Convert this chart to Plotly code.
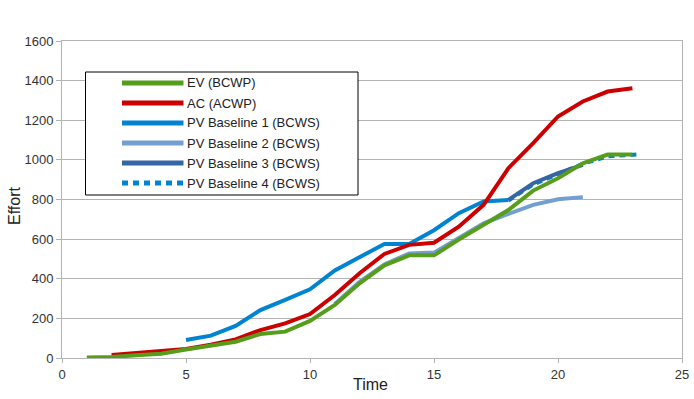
import plotly.graph_objects as go

# ---- data ----
ev_t = list(range(1, 24))
ev_v = [2, 5, 14, 22, 43, 60, 82, 121, 133, 187, 268, 377, 468, 518, 518, 598, 672, 747, 845, 907, 983, 1027, 1027]

ac_t = list(range(2, 24))
ac_v = [15, 24, 37, 45, 67, 94, 141, 175, 222, 318, 428, 525, 571, 582, 663, 773, 958, 1084, 1219, 1295, 1345, 1362]

pv1_t = list(range(5, 19))
pv1_v = [91, 113, 162, 242, 293, 347, 442, 508, 576, 576, 645, 731, 790, 798]

pv2_t = list(range(11, 22))
pv2_v = [272, 384, 472, 528, 532, 605, 680, 727, 773, 801, 812]

pv3_t = [18, 19, 20, 21]
pv3_v = [798, 882, 933, 975]

pv4_t = [18, 19, 20, 21, 22, 23.2]
pv4_v = [795, 876, 928, 980, 1018, 1027]

names = ["EV (BCWP)", "AC (ACWP)", "PV Baseline 1 (BCWS)", "PV Baseline 2 (BCWS)",
         "PV Baseline 3 (BCWS)", "PV Baseline 4 (BCWS)"]
colors = ["#579d1c", "#cc0000", "#0084d1", "#729fcf", "#3465a4", "#0084d1"]
dashes = ["solid", "solid", "solid", "solid", "solid", "6px,5px"]

x_ticks = [0, 5, 10, 15, 20, 25]
y_ticks = [0, 200, 400, 600, 800, 1000, 1200, 1400, 1600]

series = {
    0: (ev_t, ev_v),
    1: (ac_t, ac_v),
    2: (pv1_t, pv1_v),
    3: (pv2_t, pv2_v),
    4: (pv3_t, pv3_v),
    5: (pv4_t, pv4_v),
}

W, H = 694, 399
PL, PR, PT, PB = 62, 682, 41, 358          # plot area in window pixels
L, R, T, B = PL, W - PR, PT, H - PB
PW, PH = PR - PL, PB - PT

fig = go.Figure()
draw_order = [2, 3, 5, 4, 1, 0]
for i in draw_order:
    t, v = series[i]
    fig.add_trace(go.Scatter(
        x=t, y=v, mode="lines", name=names[i], showlegend=False,
        line=dict(color=colors[i], width=4, dash=dashes[i]),
    ))

def px(x):
    return (x - PL) / PW

def py(y):
    return (PB - y) / PH

shapes = []
annotations = []
# legend box
shapes.append(dict(type="rect", xref="paper", yref="paper",
                   x0=px(85.5), x1=px(358), y0=py(195), y1=py(72),
                   line=dict(color="black", width=1), fillcolor="white", layer="above"))
rows = [83, 103, 123, 143, 163, 183]
for i, yy in enumerate(rows):
    shapes.append(dict(type="line", xref="paper", yref="paper",
                       x0=px(122), x1=px(183.5), y0=py(yy), y1=py(yy),
                       line=dict(color=colors[i], width=5, dash=dashes[i]), layer="above"))
    annotations.append(dict(xref="paper", yref="paper", x=px(185), y=py(yy),
                            xanchor="left", yanchor="middle", showarrow=False,
                            text=names[i], font=dict(size=13, color="#222222")))

annotations.append(dict(xref="paper", yref="paper", x=px(370), y=py(384),
                        xanchor="center", yanchor="middle", showarrow=False,
                        text="Time", font=dict(size=16, color="#222222")))
annotations.append(dict(xref="paper", yref="paper", x=px(14), y=py(206),
                        xanchor="center", yanchor="middle", showarrow=False, textangle=-90,
                        text="Effort", font=dict(size=16, color="#222222")))

fig.update_layout(
    width=W, height=H,
    margin=dict(l=L, r=R, t=T, b=B, autoexpand=False),
    paper_bgcolor="white", plot_bgcolor="white",
    font=dict(family="Liberation Sans, Arial, sans-serif", size=13, color="#333333"),
    showlegend=False,
    shapes=shapes, annotations=annotations,
    xaxis=dict(range=[0, 25], tickvals=x_ticks, showgrid=False, zeroline=False,
               showline=True, linecolor="#b3b3b3", linewidth=1, mirror=True,
               ticks="outside", ticklen=4, tickcolor="#b3b3b3",
               ticklabeloverflow="allow",
               tickfont=dict(size=13, color="#333333")),
    yaxis=dict(range=[0, 1600], tickvals=y_ticks, showgrid=True, gridcolor="#b3b3b3",
               gridwidth=1, zeroline=False,
               showline=True, linecolor="#b3b3b3", linewidth=1, mirror=True,
               ticks="outside", ticklen=5, tickcolor="#b3b3b3",
               tickfont=dict(size=13, color="#333333")),
)

fig.write_html("out.html",
               config={"displayModeBar": False},
               post_script="document.body.style.margin='0';document.body.style.overflow='hidden';")
